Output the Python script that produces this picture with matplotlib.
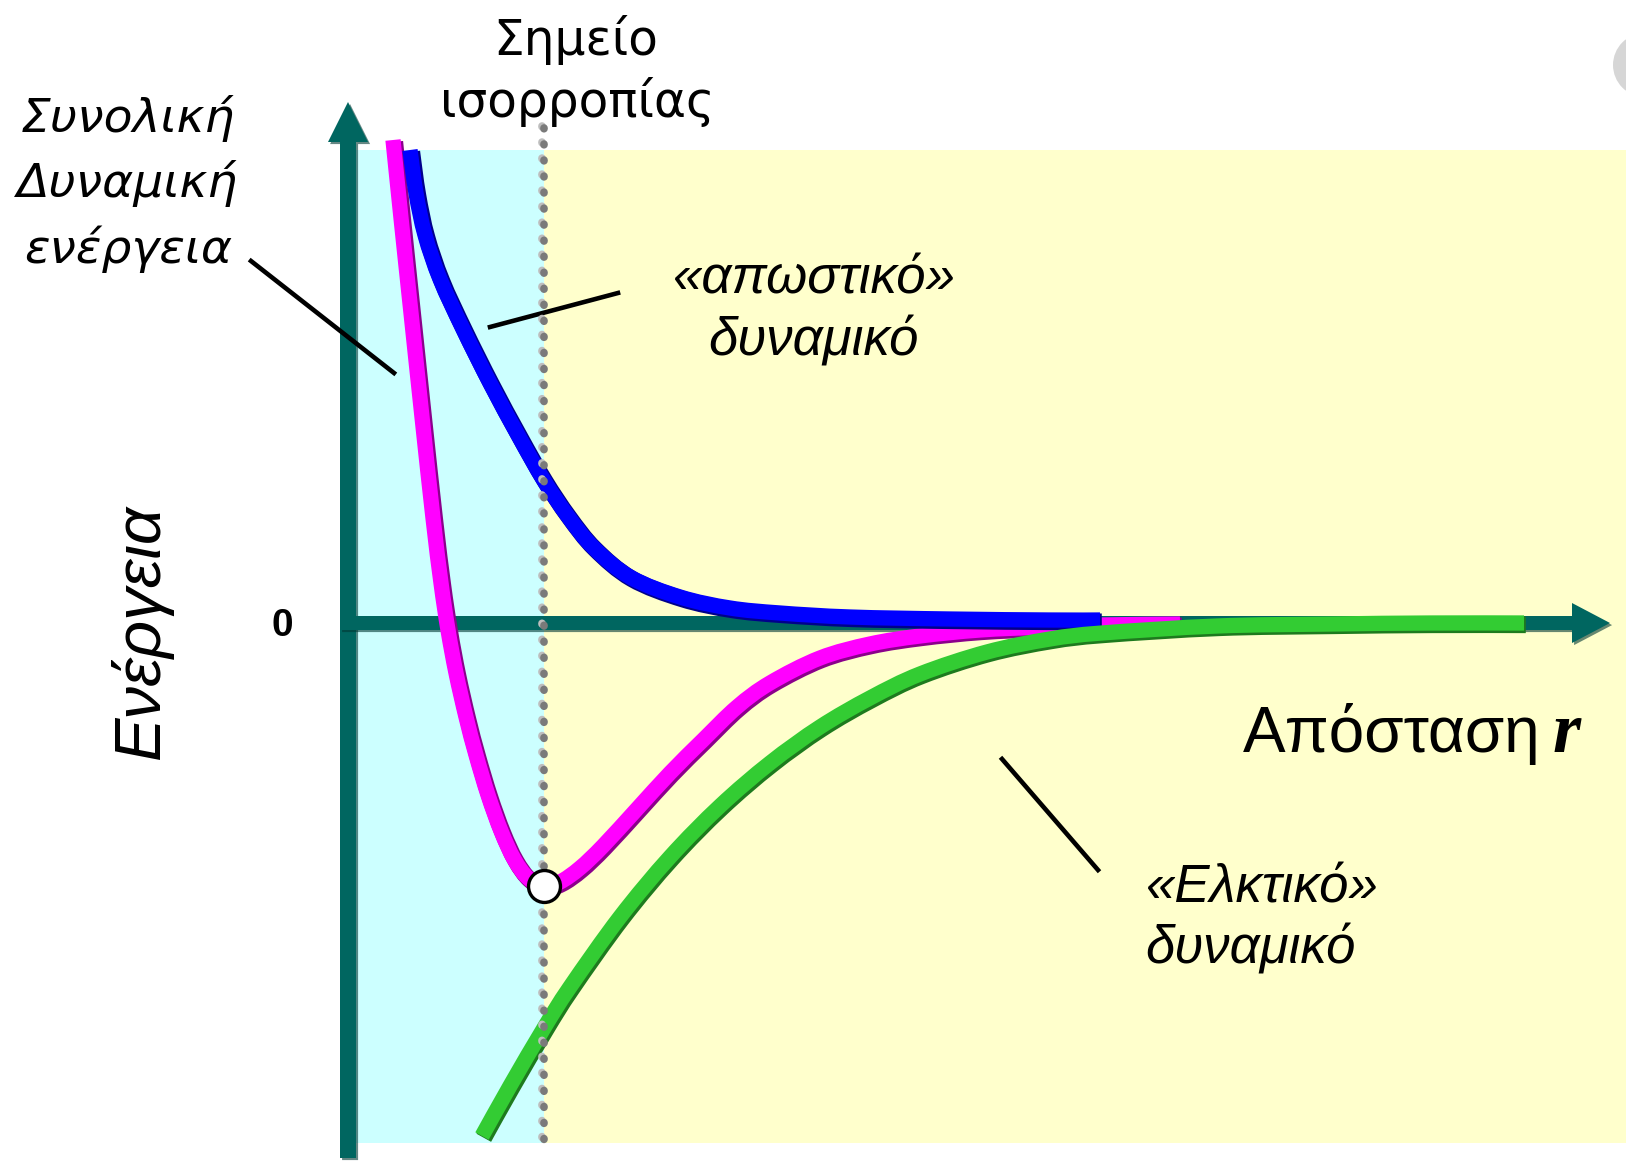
import matplotlib
matplotlib.use("Agg")
from matplotlib import pyplot as plt
from matplotlib import patheffects as pe
from matplotlib.patches import Rectangle, FancyArrow, Circle, PathPatch
from matplotlib.path import Path

# values: r = distance, E = energy (arbitrary units)
total_r = [0.45, 0.53, 0.63, 0.74, 0.85, 0.93, 1.00, 1.08, 1.18, 1.28, 1.40, 1.53,
           1.66, 1.80, 1.96, 2.12, 2.32, 2.55, 2.89, 3.22, 3.55, 3.89, 4.22, 4.72,
           5.22, 5.72, 6.32, 6.96, 7.54, 8.32]
total_E = [4.83, 4.05, 3.10, 2.06, 1.05, 0.40, -0.07, -0.50, -0.94, -1.32, -1.72, -2.08,
           -2.36, -2.55, -2.63, -2.59, -2.45, -2.23, -1.86, -1.50, -1.17, -0.84, -0.60, -0.35,
           -0.21, -0.13, -0.07, -0.04, -0.02, -0.01]

rep_r = [0.62, 0.68, 0.77, 0.92, 1.15, 1.42, 1.70, 1.95, 2.19, 2.45, 2.82, 3.32,
         3.82, 4.32, 5.02, 6.02, 7.02, 7.52]
rep_E = [4.73, 4.30, 3.88, 3.44, 2.94, 2.40, 1.88, 1.44, 1.08, 0.76, 0.46, 0.26,
         0.15, 0.10, 0.06, 0.04, 0.03, 0.03]

att_r = [1.34, 1.62, 1.96, 2.22, 2.72, 3.22, 3.72, 4.22, 4.72, 5.22, 5.72, 6.39,
         7.02, 7.54, 8.69, 9.83, 10.82, 11.76]
att_E = [-5.13, -4.63, -4.05, -3.64, -2.94, -2.34, -1.83, -1.40, -1.04, -0.75, -0.51, -0.29,
         -0.16, -0.10, -0.03, -0.01, 0.00, 0.00]

r_eq = 1.96
E_min = -2.63

plt.rcParams['font.family'] = ['DejaVu Sans']

fig = plt.figure(figsize=(16.26, 11.62), dpi=100)
ax = fig.add_axes([0, 0, 1, 1])
ax.set_xlim(-3.48, 12.78)
ax.set_ylim(-5.39, 6.23)
ax.axis('off')

# background zones
ax.add_patch(Rectangle((0, -5.20), r_eq, 9.93, color='#ccffff', zorder=1, lw=0))
ax.add_patch(Rectangle((r_eq, -5.20), 12.0, 9.93, color='#ffffcc', zorder=1, lw=0))

# axes arrows
teal = '#006660'
shadow = [pe.SimplePatchShadow(offset=(1.5, -1.5), shadow_rgbFace='#003833', alpha=0.6), pe.Normal()]
ya = FancyArrow(0, -5.35, 0, 10.56, width=0.16, head_width=0.40, head_length=0.40,
                length_includes_head=True, color=teal, lw=0, zorder=2)
xa = FancyArrow(-0.08, 0, 12.70, 0, width=0.14, head_width=0.40, head_length=0.38,
                length_includes_head=True, color=teal, lw=0, zorder=2)
for a in (ya, xa):
    a.set_path_effects(shadow)
    ax.add_patch(a)


def smooth_path(r, E):
    # catmull-rom through the read points, drawn as cubic bezier segments
    pts = list(zip(r, E))
    pts = [pts[0]] + pts + [pts[-1]]
    verts = [pts[1]]
    codes = [Path.MOVETO]
    for i in range(1, len(pts) - 2):
        p0, p1, p2, p3 = pts[i - 1], pts[i], pts[i + 1], pts[i + 2]
        c1 = (p1[0] + (p2[0] - p0[0]) / 6, p1[1] + (p2[1] - p0[1]) / 6)
        c2 = (p2[0] - (p3[0] - p1[0]) / 6, p2[1] - (p3[1] - p1[1]) / 6)
        verts += [c1, c2, p2]
        codes += [Path.CURVE4] * 3
    return Path(verts, codes)


def curve(r, E, col, dark, z):
    p = PathPatch(smooth_path(r, E), fill=False, edgecolor=col, lw=11, capstyle='butt',
                  joinstyle='round', zorder=z)
    p.set_path_effects([pe.Stroke(linewidth=12, foreground=dark, offset=(1.3, -1.3)), pe.Normal()])
    ax.add_patch(p)


curve(total_r, total_E, '#ff00ff', '#8b008b', 3)
curve(rep_r, rep_E, '#0000ff', '#00008b', 4)
curve(att_r, att_E, '#33cc33', '#1e7a1e', 5)

# equilibrium dotted line and point
ax.plot([r_eq, r_eq], [4.95, -5.27], color='#7a7a7a', lw=5.5, linestyle=(0, (0.1, 2.0)),
        dash_capstyle='round', zorder=6,
        path_effects=[pe.Stroke(foreground='#bdbdbd', offset=(-1.8, 1.8)), pe.Normal()])
ax.plot(r_eq, E_min, 'o', ms=23, mfc='white', mec='black', mew=2.4, zorder=7)

# pointer lines
ax.plot([-0.97, 0.46], [3.62, 2.50], color='black', lw=3.3, zorder=3)
ax.plot([1.42, 2.70], [2.96, 3.30], color='black', lw=3.3, zorder=3)
ax.plot([6.54, 7.50], [-1.36, -2.47], color='black', lw=3.3, zorder=3)

# texts
ax.text(2.28, 5.68, 'Σημείο', fontsize=35, ha='center', va='baseline')
ax.text(2.29, 5.06, 'ισορροπίας', fontsize=35, ha='center', va='baseline')

for txt, y in zip(['Συνολική', 'Δυναμική', 'ενέργεια'], [4.91, 4.26, 3.60]):
    ax.text(-2.20, y, txt, fontsize=34, style='italic', ha='center', va='baseline')

ax.text(4.66, 3.30, '«απωστικό»', fontsize=38, style='italic', family='Liberation Sans',
        ha='center', va='baseline')
ax.text(4.66, 2.68, 'δυναμικό', fontsize=38, style='italic', family='Liberation Sans',
        ha='center', va='baseline')

ax.text(7.97, -2.79, '«Ελκτικό»', fontsize=38, style='italic', family='Liberation Sans',
        ha='left', va='baseline')
ax.text(7.97, -3.40, 'δυναμικό', fontsize=38, style='italic', family='Liberation Sans',
        ha='left', va='baseline')

ax.text(11.92, -1.29, 'Απόσταση', fontsize=46, family='Liberation Sans', ha='right', va='baseline')
ax.text(12.05, -1.29, 'r', fontsize=52, family='Liberation Serif', style='italic',
        weight='bold', ha='left', va='baseline')

ax.text(-0.66, -0.03, '0', fontsize=28, family='Liberation Sans', weight='bold',
        ha='center', va='center')
ax.text(-2.07, -0.08, 'Ενέργεια', fontsize=47, family='Liberation Sans', style='italic',
        rotation=90, ha='center', va='center')

# grey blob at top right corner of the screenshot
ax.add_patch(Circle((12.97, 5.58), 0.32, color='#d6d6d6', lw=0, zorder=1, clip_on=False))

fig.savefig('out.png', dpi=100)
